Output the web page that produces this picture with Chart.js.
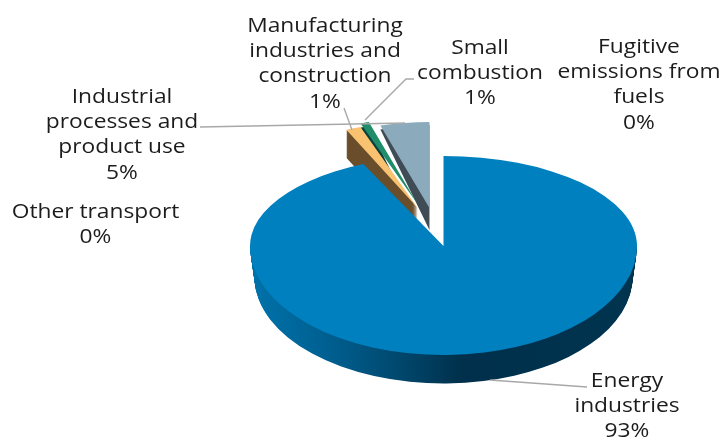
<!DOCTYPE html>
<html>
<head>
<meta charset="utf-8">
<style>
html,body{margin:0;padding:0;background:#fff;}
canvas{display:block;}
</style>
<script src="https://cdn.jsdelivr.net/npm/chart.js@4"></script>
</head>
<body>
<canvas id="c" width="723" height="439"></canvas>
<script>
// Emission shares by source, in percent (clockwise from twelve o'clock).
const categories = ['Energy industries', 'Manufacturing industries and construction', 'Small combustion', 'Other transport', 'Fugitive emissions from fuels', 'Industrial processes and product use'];
const shares = [93.2, 1.4, 0.8, 0, 0, 4.6];

// Wrapped label text for each category.
const labelLines = [
  ['Energy', 'industries'],
  ['Manufacturing', 'industries and', 'construction'],
  ['Small', 'combustion'],
  ['Other transport'],
  ['Fugitive', 'emissions from', 'fuels'],
  ['Industrial', 'processes and', 'product use']
];
const topColors = ['#0080bf', '#f9c270', '#1f8c6a', '#6f8fa3', '#5b7f95', '#8babbd'];
const wallColors = [null, '#6a4e2c', '#0b3f3e', '#33434d', '#33434d', '#3f4c56'];

// Label anchors: centre x and first baseline y.
const labelAnchors = [
  [627, 387], [325, 32], [480, 54], [95.5, 218], [639, 53], [122, 103]
];
const LINE_H = 25.2;
const TEXT_WIDEN = 1.11;
const leaders = [
  [[587, 387], [490, 380]],
  [[344, 108], [352, 130]],
  [[414, 79], [406, 79], [365, 120]],
  [],
  [],
  [[200, 127], [405, 123]]
];

// Pseudo-3D pie geometry.
const RADIUS = 193.5;
const PIE_X = 443.5, PIE_Y = 246;
const SQUASH_BACK = 90 / RADIUS, SQUASH_FRONT = 109 / RADIUS;
const DEPTH = 31;
const FRONT_SHRINK = 0.977;
const PULL_X = [0, 70, 84, 90, 90, 90];
const PULL_Y = [0, 96, 102, 90, 90, 90];
const PULLED = { x: 441, y: 247.5, sx: 0.89, sy: 0.444 };
const TAN_WALL = 28;          // straight drop of the outermost wedge's wall
const RIM_DROP = 3, APEX_DROP = 22;   // wall height at the rim and at the tip of the inner wedges

function mainTransform(ctx, arc, sx, sy, dy) {
  ctx.translate(PIE_X, PIE_Y + dy);
  ctx.scale(sx, sy);
  ctx.translate(-arc.x, -arc.y);
}

function withFill(arc, color, ctx) {
  const saved = arc.options;
  arc.options = Object.assign({}, saved, { backgroundColor: color });
  arc.draw(ctx);
  arc.options = saved;
}

const pie3d = {
  id: 'pie3d',
  beforeDatasetsDraw(chart) {
    const ctx = chart.ctx;
    const arcs = chart.getDatasetMeta(0).data;
    const main = arcs[0];

    // Pulled-out wedges at the back, painted right to left: side wall, then top face.
    [5, 4, 3, 2, 1].forEach(i => {
      const arc = arcs[i];
      if (arc.circumference === 0) return;
      const mid = (arc.startAngle + arc.endAngle) / 2;
      const place = dy => {
        ctx.translate(PULLED.x, PULLED.y + dy);
        ctx.scale(PULLED.sx, PULLED.sy);
        ctx.translate(-arc.x + Math.cos(mid) * PULL_X[i], -arc.y + Math.sin(mid) * PULL_Y[i]);
      };
      if (i === 1) {
        for (let d = TAN_WALL; d >= 1; d--) {
          ctx.save(); place(d); withFill(arc, wallColors[i], ctx); ctx.restore();
        }
      } else {
        // Wall seen at a glancing angle: thin at the rim, tall at the tip.
        const apexY = PULLED.y - Math.abs(Math.sin(mid)) * PULL_Y[i] * PULLED.sy;
        const rimY = apexY - RADIUS * PULLED.sy;
        const stretch = (apexY + APEX_DROP - (rimY + RIM_DROP)) / (apexY - rimY);
        ctx.save();
        ctx.translate(0, rimY + RIM_DROP);
        ctx.scale(1, stretch);
        ctx.translate(0, -rimY);
        place(0);
        withFill(arc, wallColors[i], ctx);
        ctx.restore();
      }
      ctx.save(); place(0); arc.draw(ctx); ctx.restore();
    });

    // Front wall of the main slice, shaded from left to right.
    const g = ctx.createLinearGradient(main.x - RADIUS, 0, main.x + RADIUS, 0);
    g.addColorStop(0, '#0072aa');
    g.addColorStop(0.2, '#005f90');
    g.addColorStop(0.38, '#00486e');
    g.addColorStop(0.55, '#00304b');
    g.addColorStop(1, '#00344f');
    for (let d = DEPTH; d >= 1; d--) {
      const t = d / DEPTH;
      ctx.save();
      ctx.beginPath();
      ctx.rect(0, PIE_Y + d, chart.width, chart.height);
      ctx.clip();
      mainTransform(ctx, main, 1 - (1 - FRONT_SHRINK) * t, SQUASH_FRONT * (1 - (1 - FRONT_SHRINK) * t), d);
      withFill(main, g, ctx);
      ctx.restore();
    }

    // Top face of the main slice: the far half is foreshortened more than the near half.
    ctx.save();
    ctx.beginPath();
    ctx.rect(0, 0, chart.width, PIE_Y);
    ctx.clip();
    mainTransform(ctx, main, 1, SQUASH_BACK, 0);
    main.draw(ctx);
    ctx.restore();

    ctx.save();
    ctx.beginPath();
    ctx.rect(0, PIE_Y, chart.width, chart.height);
    ctx.clip();
    mainTransform(ctx, main, 1, SQUASH_FRONT, 0);
    main.draw(ctx);
    ctx.restore();

    return false;
  },
  afterDraw(chart) {
    const ctx = chart.ctx;
    const total = shares.reduce((a, b) => a + b, 0);

    // Leader lines.
    ctx.save();
    ctx.strokeStyle = '#a8a8a8';
    ctx.lineWidth = 1.4;
    leaders.forEach(pts => {
      if (!pts.length) return;
      ctx.beginPath();
      pts.forEach((p, k) => k ? ctx.lineTo(p[0], p[1]) : ctx.moveTo(p[0], p[1]));
      ctx.stroke();
    });
    ctx.restore();

    // Category labels with their rounded share; the face is set slightly wide.
    ctx.save();
    ctx.fillStyle = '#1c1c1c';
    ctx.font = '20.5px "Open Sans"';
    ctx.textAlign = 'center';
    ctx.textBaseline = 'alphabetic';
    categories.forEach((name, i) => {
      const lines = labelLines[i].concat(Math.round(shares[i] / total * 100) + '%');
      lines.forEach((line, k) => {
        ctx.save();
        ctx.translate(labelAnchors[i][0], labelAnchors[i][1] + k * LINE_H);
        ctx.scale(TEXT_WIDEN, 1);
        ctx.fillText(line, 0, 0);
        ctx.restore();
      });
    });
    ctx.restore();
  }
};

new Chart(document.getElementById('c'), {
  type: 'pie',
  data: {
    labels: categories,
    datasets: [{ data: shares, backgroundColor: topColors, borderWidth: 0 }]
  },
  options: {
    responsive: false,
    animation: false,
    radius: RADIUS,
    plugins: { legend: { display: false }, tooltip: { enabled: false } }
  },
  plugins: [pie3d]
});
</script>
</body>
</html>
